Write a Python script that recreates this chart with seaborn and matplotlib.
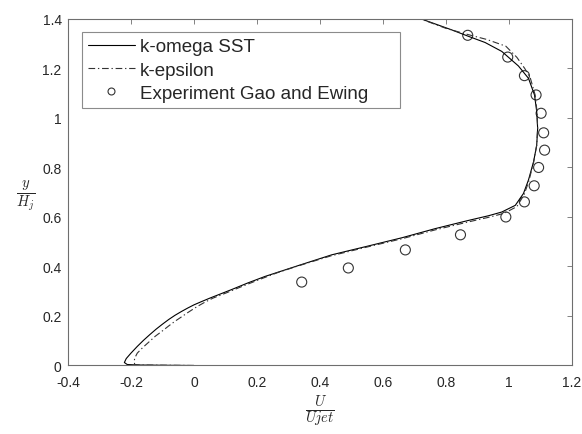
import numpy as np
import pandas as pd
import matplotlib
matplotlib.use("Agg")
import matplotlib.pyplot as plt
import seaborn as sns
from matplotlib.lines import Line2D

# Velocity profiles U/Ujet against y/Hj
sst_u = [0.0, -0.10, -0.18, -0.212, -0.221, -0.215, -0.20, -0.18, -0.16, -0.14,
         -0.12, -0.10, -0.08, -0.06, -0.04, -0.02, 0.0, 0.02, 0.05, 0.08,
         0.12, 0.17, 0.226, 0.332, 0.437, 0.554, 0.66, 0.766, 0.871, 0.935,
         0.977, 1.02, 1.046, 1.062, 1.078, 1.088, 1.091, 1.088, 1.081, 1.062,
         1.03, 0.977, 0.924, 0.871, 0.818, 0.713, 0.68]
sst_y = [0.0, 0.001, 0.002, 0.004, 0.012, 0.028, 0.05, 0.077, 0.102, 0.125,
         0.147, 0.167, 0.186, 0.203, 0.218, 0.232, 0.245, 0.256, 0.272, 0.287,
         0.307, 0.333, 0.36, 0.404, 0.447, 0.483, 0.516, 0.553, 0.586, 0.605,
         0.62, 0.647, 0.695, 0.75, 0.823, 0.89, 0.958, 1.026, 1.093, 1.16,
         1.21, 1.269, 1.305, 1.33, 1.356, 1.404, 1.42]

ke_u = [0.0, -0.10, -0.17, -0.188, -0.19, -0.188, -0.18, -0.163, -0.143, -0.123,
        -0.10, -0.08, -0.06, -0.04, -0.023, -0.006, 0.01, 0.035, 0.06, 0.10,
        0.15, 0.205, 0.265, 0.325, 0.435, 0.554, 0.66, 0.766, 0.871, 0.94,
        0.985, 1.025, 1.048, 1.063, 1.078, 1.088, 1.091, 1.089, 1.083, 1.068,
        1.05, 1.025, 0.99, 0.93, 0.87, 0.80, 0.72, 0.69]
ke_y = [0.0, 0.001, 0.002, 0.004, 0.015, 0.03, 0.05, 0.072, 0.095, 0.118,
        0.14, 0.16, 0.179, 0.196, 0.211, 0.225, 0.238, 0.256, 0.272, 0.292,
        0.318, 0.346, 0.375, 0.40, 0.443, 0.48, 0.512, 0.548, 0.58, 0.60,
        0.615, 0.642, 0.69, 0.745, 0.82, 0.89, 0.958, 1.026, 1.093, 1.16,
        1.20, 1.245, 1.29, 1.317, 1.337, 1.362, 1.40, 1.415]

exp_u = [0.342, 0.490, 0.671, 0.846, 0.990, 1.049, 1.080, 1.094, 1.113, 1.110,
         1.102, 1.086, 1.049, 0.996, 0.869]
exp_y = [0.337, 0.394, 0.467, 0.528, 0.600, 0.661, 0.726, 0.800, 0.870, 0.940,
         1.019, 1.093, 1.171, 1.246, 1.334]

labels = ["k-omega SST", "k-epsilon", "Experiment Gao and Ewing"]
x_ticks = [-0.4, -0.2, 0, 0.2, 0.4, 0.6, 0.8, 1, 1.2]
y_ticks = [0, 0.2, 0.4, 0.6, 0.8, 1, 1.2, 1.4]

sns.set_theme(style="white")
plt.rcParams["font.family"] = ["Liberation Sans", "DejaVu Sans"]
plt.rcParams["mathtext.fontset"] = "cm"

sst = pd.DataFrame({"u": sst_u, "y": sst_y})
ke = pd.DataFrame({"u": ke_u, "y": ke_y})
exp = pd.DataFrame({"u": exp_u, "y": exp_y})

fig = plt.figure(figsize=(5.82, 4.35), dpi=100)
ax = fig.add_axes([0.1168, 0.1575, 0.866, 0.7966])

axis_gray = "#6e6e6e"
dashdot = (0, (6, 2.5, 1.2, 2.5))
sns.lineplot(data=sst, x="u", y="y", sort=False, estimator=None, ax=ax,
             color="black", linewidth=0.8)
sns.lineplot(data=ke, x="u", y="y", sort=False, estimator=None, ax=ax,
             color="#333333", linewidth=0.8, linestyle=dashdot)
sns.scatterplot(data=exp, x="u", y="y", ax=ax, marker="o", s=52,
                facecolor="none", edgecolor="#333333", linewidth=0.8)

ax.set_xlim(-0.4, 1.2)
ax.set_ylim(0, 1.4)
ax.set_xticks(x_ticks)
ax.set_yticks(y_ticks)
ax.set_xticklabels([f"{t:g}" for t in x_ticks])
ax.set_yticklabels([f"{t:g}" for t in y_ticks])
ax.tick_params(direction="in", length=3.6, width=0.6, color=axis_gray,
               top=True, right=True, labelsize=10, labelcolor="#262626")
ax.tick_params(axis="x", pad=7)
ax.tick_params(axis="y", pad=4.5)
for sp in ax.spines.values():
    sp.set_color(axis_gray)
    sp.set_linewidth(0.8)

ax.set_xlabel(r"$\frac{U}{Ujet}$", fontsize=15, color="#262626", va="center")
ax.xaxis.set_label_coords(0.5, -0.128)
ax.set_ylabel(r"$\frac{y}{H_j}$", fontsize=15, color="#262626", rotation=0,
              va="center", ha="center")
ax.yaxis.set_label_coords(-0.085, 0.49)

handles = [
    Line2D([], [], color="black", linewidth=0.8),
    Line2D([], [], color="#333333", linewidth=0.8, linestyle=dashdot),
    Line2D([], [], linestyle="none", marker="o", markersize=5,
           markerfacecolor="none", markeredgecolor="#333333", markeredgewidth=0.8),
]
leg = ax.legend(handles, labels, loc="upper left",
                bbox_to_anchor=(0.027, 0.5, 0.631, 0.462), mode="expand",
                borderaxespad=0, fontsize=13.5, frameon=True, fancybox=False,
                handlelength=2.5, handletextpad=0.27, labelspacing=0.32,
                borderpad=0.33)
leg.get_frame().set_edgecolor(axis_gray)
leg.get_frame().set_linewidth(0.8)
for t in leg.get_texts():
    t.set_color("#262626")

fig.savefig("out.png", dpi=100)
